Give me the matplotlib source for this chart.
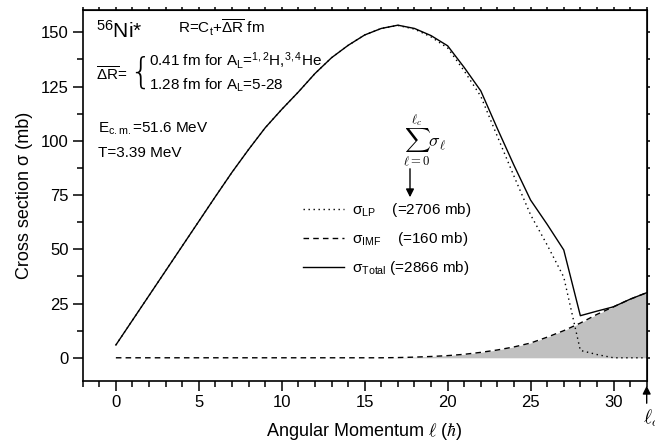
import matplotlib
matplotlib.use("Agg")
import matplotlib.pyplot as plt
from matplotlib.ticker import MultipleLocator
import numpy as np

plt.rcParams['font.family'] = ['Liberation Sans', 'DejaVu Sans']
plt.rcParams['mathtext.fontset'] = 'custom'
plt.rcParams['mathtext.rm'] = 'Liberation Sans'
plt.rcParams['mathtext.it'] = 'Liberation Sans:italic'
plt.rcParams['mathtext.bf'] = 'Liberation Sans:bold'
plt.rcParams['mathtext.sf'] = 'Liberation Sans'

# ---------------- data ----------------
ell = list(range(0, 33))
sigma_total = [5.9, 17.3, 28.7, 40.1, 51.5, 62.9, 74.3, 85.5, 96.0, 106.0,
               114.5, 122.5, 131.0, 138.3, 144.0, 148.8, 151.8, 153.3, 151.8, 148.5,
               143.8, 133.8, 123.0, 105.6, 88.7, 72.7, 61.5, 49.7, 19.4, 21.5,
               23.5, 27.0, 30.0]
sigma_imf = [0, 0, 0, 0, 0, 0, 0, 0, 0, 0,
             0, 0, 0, 0, 0, 0, 0, 0.1, 0.3, 0.6,
             1.0, 1.6, 2.5, 3.6, 5.0, 6.8, 9.5, 12.5, 16.0, 20.0,
             23.5, 27.0, 30.0]
sigma_lp = [5.9, 17.3, 28.7, 40.1, 51.5, 62.9, 74.3, 85.5, 96.0, 106.0,
            114.5, 122.5, 131.0, 138.3, 144.0, 148.8, 151.8, 153.2, 151.5, 147.9,
            142.8, 132.2, 120.5, 102.0, 83.7, 65.9, 52.0, 37.2, 3.4, 1.5,
            0.0, 0.0, 0.0]
legend_labels = [r"$\mathrm{\sigma}_{\mathrm{LP}}$    (=2706 mb)",
                 r"$\mathrm{\sigma}_{\mathrm{IMF}}$    (=160 mb)",
                 r"$\mathrm{\sigma}_{\mathrm{Total}}$ (=2866 mb)"]
x_ticks = [0, 5, 10, 15, 20, 25, 30]
y_ticks = [0, 25, 50, 75, 100, 125, 150]

W, H = 655, 442
fig = plt.figure(figsize=(W / 100, H / 100), dpi=100)
L, R, T, B = 82.7, 646.7, 10.0, 381.0
ax = fig.add_axes([L / W, 1 - B / H, (R - L) / W, (B - T) / H])


def px(x, y):
    return (x / W, 1 - y / H)


ax.fill_between(ell, 0, sigma_imf, color='#c0c0c0', lw=0, zorder=1)
l_lp, = ax.plot(ell, sigma_lp, color='k', lw=1.0, linestyle=(0, (1, 2.6)), zorder=3)
l_imf, = ax.plot(ell, sigma_imf, color='k', lw=1.0, linestyle=(0, (4, 3)), zorder=3)
l_tot, = ax.plot(ell, sigma_total, color='k', lw=1.0, zorder=3)

ax.set_xlim(-2, 32)
ax.set_ylim(-10.7, 160.3)
ax.set_xticks(x_ticks)
ax.set_yticks(y_ticks)
ax.xaxis.set_minor_locator(MultipleLocator(1))
ax.yaxis.set_minor_locator(MultipleLocator(12.5))
ax.tick_params(which='major', direction='out', length=7, width=1.1, labelsize=12, pad=3)
ax.tick_params(which='minor', direction='out', length=4, width=1.1)
for s in ax.spines.values():
    s.set_linewidth(1.2)

secx = ax.secondary_xaxis('top')
secx.set_xticks(x_ticks)
secx.xaxis.set_minor_locator(MultipleLocator(1))
secx.tick_params(which='both', direction='out', length=2.5, width=1.1, labeltop=False)
secy = ax.secondary_yaxis('right')
secy.set_yticks(y_ticks)
secy.yaxis.set_minor_locator(MultipleLocator(12.5))
secy.tick_params(which='both', direction='out', length=2.5, width=1.1, labelright=False)

ax.set_xlabel(r"Angular Momentum $\ell$ ($\hbar$)", fontsize=13, math_fontfamily='cm', labelpad=8)
ax.set_ylabel("Cross section σ (mb)", fontsize=13, labelpad=6)

leg = ax.legend([l_lp, l_imf, l_tot], legend_labels, loc='upper left',
                bbox_to_anchor=px(303, 201), bbox_transform=fig.transFigure,
                frameon=False, fontsize=11, handlelength=2.7, handletextpad=0.5,
                labelspacing=0.72, borderpad=0, borderaxespad=0)

# annotations
fig.text(*px(96, 38), r"$^{56}$Ni*", fontsize=15, va='baseline')
fig.text(*px(178, 34), r"R=C$_{\mathrm{t}}$+$\overline{\Delta\mathrm{R}}$ fm", fontsize=11, va='baseline')
fig.text(*px(96, 81), r"$\overline{\Delta\mathrm{R}}$=", fontsize=11, va='baseline')
fig.text(*px(129, 73), "{", fontsize=25, va='center', ha='left',
         family='DejaVu Sans', fontweight=200)
fig.text(*px(149, 66), r"0.41 fm for A$_{\mathrm{L}}$=$^{1,2}$H,$^{3,4}$He", fontsize=11, va='baseline')
fig.text(*px(149, 90), r"1.28 fm for A$_{\mathrm{L}}$=5-28", fontsize=11, va='baseline')
fig.text(*px(98, 133), r"E$_{\mathrm{c.m.}}$=51.6 MeV", fontsize=11, va='baseline')
fig.text(*px(98, 157), "T=3.39 MeV", fontsize=11, va='baseline')

fig.text(*px(403, 140), r"$\sum_{\ell=0}^{\ell_c}\sigma_\ell$", fontsize=13,
         math_fontfamily='cm', va='center', ha='left')
ax.annotate("", xy=px(410, 200), xytext=px(410, 166), xycoords='figure fraction',
            textcoords='figure fraction',
            arrowprops=dict(arrowstyle='-|>', color='k', lw=1.0, mutation_scale=12))
ax.annotate("", xy=px(646.7, 383), xytext=px(646.7, 406), xycoords='figure fraction',
            textcoords='figure fraction',
            arrowprops=dict(arrowstyle='-|>', color='k', lw=1.0, mutation_scale=12))
fig.text(*px(643, 424), r"$\ell_c$", fontsize=14, math_fontfamily='cm', va='baseline', ha='left')

fig.savefig("out.png", dpi=100)
